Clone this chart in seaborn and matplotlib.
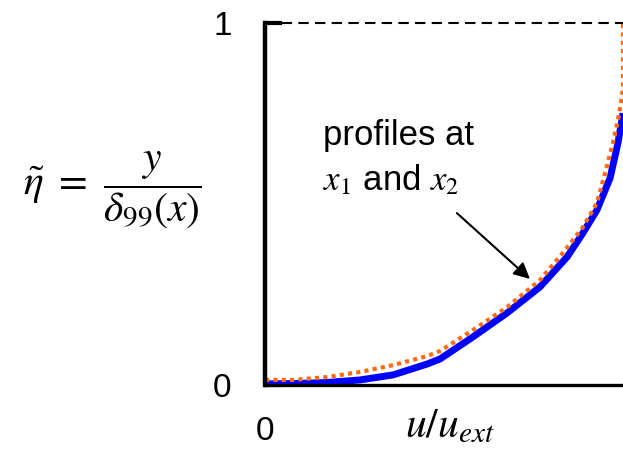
import matplotlib
matplotlib.use("Agg")
import matplotlib.pyplot as plt
import seaborn as sns
import pandas as pd

# Velocity profiles u/u_ext versus normalised wall distance at two stations
u_x1 = [0.0, 0.078, 0.173, 0.265, 0.358, 0.453, 0.489, 0.581, 0.676, 0.768,
        0.844, 0.888, 0.927, 0.964, 0.986, 1.0]
eta_x1 = [0.003, 0.004, 0.007, 0.014, 0.028, 0.058, 0.072, 0.133, 0.199, 0.271,
          0.354, 0.420, 0.483, 0.572, 0.669, 0.751]
u_x2 = [0.0, 0.078, 0.173, 0.265, 0.358, 0.453, 0.489, 0.581, 0.676, 0.768,
        0.832, 0.888, 0.927, 0.947, 0.972, 0.986, 0.994, 1.0, 1.0]
eta_x2 = [0.014, 0.014, 0.022, 0.036, 0.055, 0.080, 0.094, 0.152, 0.215, 0.290,
          0.365, 0.436, 0.503, 0.575, 0.669, 0.732, 0.779, 0.82, 1.0]

x_ticks = [0]
y_ticks = [0, 1]

sns.set_theme(style="white")
plt.rcParams["font.family"] = ["Liberation Sans", "DejaVu Sans"]
plt.rcParams["mathtext.fontset"] = "stix"
plt.rcParams["text.color"] = "black"
plt.rcParams["xtick.labelcolor"] = "black"
plt.rcParams["ytick.labelcolor"] = "black"

fig = plt.figure(figsize=(6.23, 4.5), dpi=100)
ax = fig.add_axes([0.4254, 0.1444, 0.5746, 0.8044])

df1 = pd.DataFrame({"u": u_x1, "eta": eta_x1})
df2 = pd.DataFrame({"u": u_x2, "eta": eta_x2})
sns.lineplot(data=df1, x="u", y="eta", ax=ax, color="#0000ff", lw=5,
             sort=False, estimator=None, solid_capstyle="butt",
             solid_joinstyle="round")
sns.lineplot(data=df2, x="u", y="eta", ax=ax, color="#ff6a13", lw=3,
             sort=False, estimator=None, linestyle=(0, (1, 1)))

# edge of the boundary layer
ax.plot([0, 1], [1, 1], color="black", lw=1.5, linestyle=(0, (5, 3)),
        clip_on=False)

ax.set_xlim(0, 1)
ax.set_ylim(0, 1)
ax.set_xticks(x_ticks)
ax.set_yticks(y_ticks)
ax.set_xticklabels([str(t) for t in x_ticks])
ax.set_yticklabels([str(t) for t in y_ticks])
ax.tick_params(axis="y", direction="in", length=12, width=3, color="black",
               pad=24, labelsize=24, left=True)
ax.tick_params(axis="x", length=0, pad=22, labelsize=24)
ax.set_xlabel("")
ax.set_ylabel("")

for side in ("top", "right"):
    ax.spines[side].set_visible(False)
for side in ("left", "bottom"):
    ax.spines[side].set_color("black")
ax.spines["left"].set_linewidth(3.2)
ax.spines["bottom"].set_linewidth(2.4)

fig.text(0.722, 0.052, r"$u/u_{ext}$", fontsize=30, ha="center", va="center")
fig.text(0.18, 0.578, r"$\tilde{\eta}\ =\ \dfrac{y}{\delta_{99}(x)}$",
         fontsize=30, ha="center", va="center")

ax.text(0.162, 0.627, "profiles at\n$x_1$ and $x_2$", transform=ax.transAxes,
        fontsize=25, ha="left", va="center", linespacing=1.35)
ax.annotate("", xy=(0.74, 0.293), xytext=(0.536, 0.475),
            xycoords="data", textcoords="data",
            arrowprops=dict(arrowstyle="-|>", color="black", lw=1.5,
                            mutation_scale=24, shrinkA=0, shrinkB=0))

fig.savefig("out.png", dpi=100)
